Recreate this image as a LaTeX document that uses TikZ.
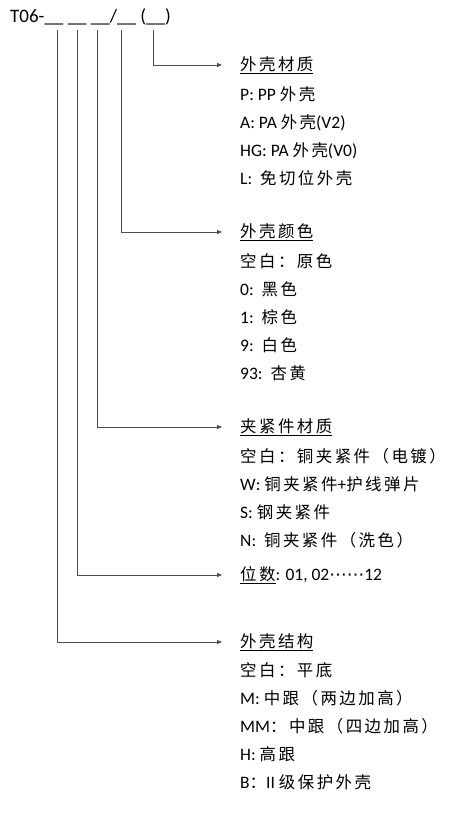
\documentclass[tikz,border=0pt]{standalone}
\usepackage{fontspec}
\setmainfont{Carlito}
\newfontfamily\cjk[Scale=0.94, LetterSpace=15]{Noto Sans CJK SC}
\newfontfamily\dotsfont{DejaVu Sans}
\usetikzlibrary{arrows.meta, positioning}
\tikzset{
  code/.style={anchor=west, inner sep=0pt, font=\fontsize{19}{19}\selectfont},
  head/.style={anchor=west, inner sep=0pt, font=\fontsize{17.5}{28}\selectfont},
  items/.style={anchor=north west, inner sep=0pt, align=left, font=\fontsize{17.5}{28}\selectfont},
  leader/.style={draw=black!70, line width=0.8pt, -{Triangle[length=5pt,width=4pt]}, shorten >=18pt},
}

\begin{document}
\begin{tikzpicture}[x=1pt, y=-1pt]
    \useasboundingbox (0,0) rectangle (468,829);

    % Code string
    \node (typecode) [code] at (10,17) {T06-\_\_ \_\_ \_\_/\_\_ (\_\_)};

    % Tap points under the code
    \coordinate (tapStruct) at (57,30);
    \coordinate (tapPos) at (77,30);
    \coordinate (tapClamp) at (97,30);
    \coordinate (tapColour) at (121,30);
    \coordinate (tapShell) at (153,30);

    % Shell material
    \node (shellH) [head] at (240,65) {\cjk\underline{外壳材质}};
    \node (shellL) [below=13pt of shellH.south west, items] {P: PP {\cjk 外壳}\\A: PA {\cjk 外壳}(V2)\\HG: PA {\cjk 外壳}(V0)\\L:\ \ {\cjk 免切位外壳}};

    % Shell colour
    \node (colourH) [head] at (240,232) {\cjk\underline{外壳颜色}};
    \node (colourL) [below=13pt of colourH.south west, items] {{\cjk 空白：原色}\\0:\ \ {\cjk 黑色}\\1:\ \ {\cjk 棕色}\\9:\ \ {\cjk 白色}\\93:\ \ {\cjk 杏黄}};

    % Clamp material
    \node (clampH) [head] at (240,427) {\cjk\underline{夹紧件材质}};
    \node (clampL) [below=12pt of clampH.south west, items] {{\cjk 空白：铜夹紧件（电镀）}\\W:\ {\cjk 铜夹紧件}+{\cjk 护线弹片}\\S:\ {\cjk 钢夹紧件}\\N:\ \ {\cjk 铜夹紧件（洗色）}};

    % Positions
    \node (posH) [head] at (240,575) {{\cjk\underline{位数}}: 01, 02{\dotsfont ⋯⋯}12};

    % Shell structure
    \node (structH) [head] at (240,642) {\cjk\underline{外壳结构}};
    \node (structL) [below=12pt of structH.south west, items] {{\cjk 空白：平底}\\M:\ {\cjk 中跟（两边加高）}\\MM{\cjk ：中跟（四边加高）}\\H:\ {\cjk 高跟}\\B{\cjk ：}II {\cjk 级保护外壳}};

    % Leaders
    \draw [leader] (tapShell) |- (shellH.west);
    \draw [leader] (tapColour) |- (colourH.west);
    \draw [leader] (tapClamp) |- (clampH.west);
    \draw [leader] (tapPos) |- (posH.west);
    \draw [leader] (tapStruct) |- (structH.west);
\end{tikzpicture}
\end{document}
